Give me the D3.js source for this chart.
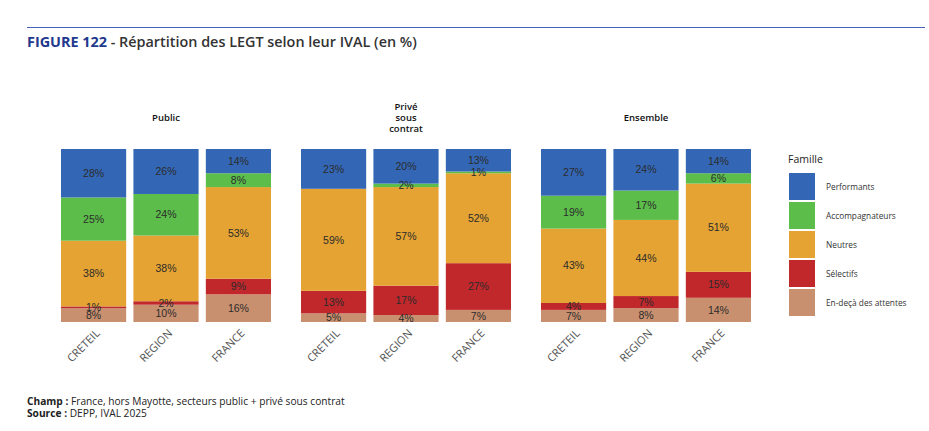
<!DOCTYPE html>
<html>
<head>
<meta charset="utf-8">
<script src="https://cdn.jsdelivr.net/npm/d3@7"></script>
<style>
  body { margin: 0; background: #fff; }
  svg { display: block; }
</style>
</head>
<body>
<div id="chart"></div>
<script>
// Data
const groups = ["Public", "Privé sous contrat", "Ensemble"];
const zones = ["CRETEIL", "REGION", "FRANCE"];
const families = ["Performants", "Accompagnateurs", "Neutres", "Sélectifs", "En-deçà des attentes"];
const colors = ["#3367b6", "#5dbd4b", "#e4a332", "#c1282b", "#c9906f"];

// values per family, order: Public (CRETEIL, REGION, FRANCE), Privé (...), Ensemble (...)
const performants     = [28, 26, 14, 23, 20, 13, 27, 24, 14];
const accompagnateurs = [25, 24,  8,  0,  2,  1, 19, 17,  6];
const neutres         = [38, 38, 53, 59, 57, 52, 43, 44, 51];
const selectifs       = [ 1,  2,  9, 13, 17, 27,  4,  7, 15];
const endeca          = [ 8, 10, 16,  5,  4,  7,  7,  8, 14];
const series = [performants, accompagnateurs, neutres, selectifs, endeca];

const width = 929, height = 431;

let svg = d3.select("#chart").append("svg")
    .attr("width", width)
    .attr("height", height);

// Header line + title
svg.append("line")
    .attr("x1", 27).attr("x2", 925)
    .attr("y1", 27.5).attr("y2", 27.5)
    .style("stroke", "#4463b4")
    .style("stroke-width", 1.2);

let title = svg.append("text")
    .attr("x", 27).attr("y", 47)
    .style("font-family", "'Open Sans', sans-serif")
    .style("font-size", "14.4px");
title.append("tspan")
    .style("font-weight", 700)
    .style("fill", "#22398d")
    .text("FIGURE 122");
title.append("tspan")
    .style("font-weight", 600)
    .style("fill", "#333")
    .text(" - Répartition des LEGT selon leur IVAL (en %)");

// Scales
let x0 = d3.scaleBand().domain(groups).range([49, 769]);
let x1 = d3.scaleBand().domain(zones).range([12, 222]).paddingInner(0.1).paddingOuter(0);
let y = d3.scaleLinear().domain([0, 100]).range([322, 149]);
let color = d3.scaleOrdinal().domain(families).range(colors);

// Build rows: one object per bar
let rows = [];
groups.forEach((g, gi) => {
    zones.forEach((z, zi) => {
        let row = { group: g, zone: z };
        families.forEach((f, fi) => row[f] = series[fi][gi * 3 + zi]);
        rows.push(row);
    });
});

// Stack from bottom: En-deçà at bottom, Performants at top
let stack = d3.stack().keys(families.slice().reverse());
let stacked = stack(rows);

let panels = svg.selectAll(".panel")
    .data(groups)
    .enter()
    .append("g")
    .attr("class", "panel")
    .attr("transform", d => `translate(${x0(d)},0)`);

// Panel titles
panels.each(function(g) {
    let lines = g === "Privé sous contrat" ? ["Privé", "sous", "contrat"] : [g];
    let t = d3.select(this).append("text")
        .attr("x", x1("REGION") + x1.bandwidth() / 2)
        .attr("y", lines.length === 1 ? 120.5 : 109.5)
        .style("text-anchor", "middle")
        .style("font-family", "'Open Sans', sans-serif")
        .style("font-size", "9.5px")
        .style("font-weight", 600)
        .style("fill", "#111");
    lines.forEach((l, i) => {
        t.append("tspan")
            .attr("x", x1("REGION") + x1.bandwidth() / 2)
            .attr("dy", i === 0 ? 0 : 11)
            .text(l);
    });
});

// Segments
stacked.forEach(layer => {
    let key = layer.key;
    layer.forEach((seg, i) => {
        let r = rows[i];
        let gx = x0(r.group) + x1(r.zone);
        if (seg[1] - seg[0] <= 0) return;
        svg.append("rect")
            .attr("x", gx)
            .attr("y", y(seg[1]))
            .attr("width", x1.bandwidth())
            .attr("height", y(seg[0]) - y(seg[1]))
            .style("fill", color(key));
    });
});

// Value labels
stacked.forEach(layer => {
    layer.forEach((seg, i) => {
        let r = rows[i];
        let v = seg[1] - seg[0];
        if (v <= 0) return;
        svg.append("text")
            .attr("x", x0(r.group) + x1(r.zone) + x1.bandwidth() / 2)
            .attr("y", y((seg[0] + seg[1]) / 2))
            .attr("dy", "0.35em")
            .style("text-anchor", "middle")
            .style("font-family", "'Liberation Sans', Arial, sans-serif")
            .style("font-size", "10.5px")
            .style("fill", "#2b2b2b")
            .text(v + "%");
    });
});

// X axis labels (rotated)
rows.forEach(r => {
    let cx = x0(r.group) + x1(r.zone) + x1.bandwidth() / 2;
    svg.append("text")
        .attr("transform", `translate(${cx + 7},${334}) rotate(-45)`)
        .style("text-anchor", "end")
        .style("font-family", "'Open Sans', sans-serif")
        .style("font-size", "11px")
        .style("fill", "#555")
        .text(r.zone);
});

// Legend
let legend = svg.append("g").attr("transform", "translate(789,0)");
legend.append("text")
    .attr("x", -1).attr("y", 163)
    .style("font-family", "'Open Sans', sans-serif")
    .style("font-size", "10.5px")
    .style("fill", "#222")
    .text("Famille");

let items = legend.selectAll(".item")
    .data(families)
    .enter()
    .append("g")
    .attr("class", "item")
    .attr("transform", (d, i) => `translate(0,${173 + i * 29})`);

items.append("rect")
    .attr("width", 26)
    .attr("height", 27)
    .style("fill", d => color(d));

items.append("text")
    .attr("x", 37)
    .attr("y", 14)
    .attr("dy", "0.35em")
    .style("font-family", "'Open Sans', sans-serif")
    .style("font-size", "8.3px")
    .style("fill", "#333")
    .text(d => d);

// Footer
let champ = svg.append("text")
    .attr("x", 27).attr("y", 405)
    .style("font-family", "'Open Sans', sans-serif")
    .style("font-size", "10.2px")
    .style("fill", "#222");
champ.append("tspan").style("font-weight", 700).text("Champ : ");
champ.append("tspan").text("France, hors Mayotte, secteurs public + privé sous contrat");

let source = svg.append("text")
    .attr("x", 27).attr("y", 417)
    .style("font-family", "'Open Sans', sans-serif")
    .style("font-size", "10.2px")
    .style("fill", "#222");
source.append("tspan").style("font-weight", 700).text("Source : ");
source.append("tspan").text("DEPP, IVAL 2025");
</script>
</body>
</html>
